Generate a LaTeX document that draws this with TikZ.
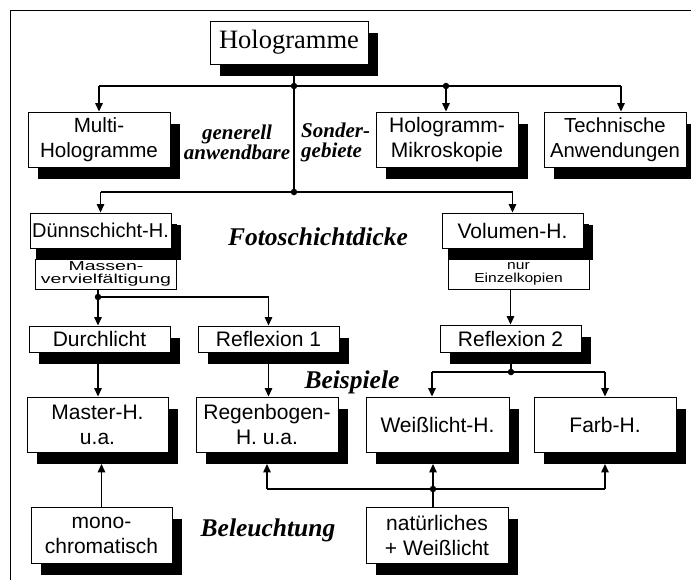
\documentclass[tikz,border=0pt]{standalone}
\usepackage{fontspec}
\usepackage{graphicx}
\setmainfont{Liberation Serif}
\setsansfont{Liberation Sans}
\usetikzlibrary{arrows.meta,shadows,calc}
\begin{document}
\begin{tikzpicture}[x=1pt,y=-1pt,
  box/.style={draw, line width=0.9pt, fill=white, inner sep=0pt, align=center,
    font=\fontsize{21}{25}\selectfont\sffamily,
    drop shadow={shadow xshift=9.5pt, shadow yshift=-11.5pt, fill=black, opacity=1}},
  subbox/.style={draw, line width=0.9pt, fill=white, inner sep=0pt, align=center,
    font=\fontsize{13}{13}\selectfont\sffamily},
  lab/.style={inner sep=0pt, font=\fontsize{21}{20}\selectfont\bfseries\itshape},
  biglab/.style={inner sep=0pt, font=\fontsize{25.5}{28}\selectfont\bfseries\itshape},
  conn/.style={line width=1.4pt},
  arr/.style={line width=1.4pt, -{Triangle[length=8.5pt,width=7.5pt]}},
  dot/.style={circle, fill=black, inner sep=0pt, minimum size=6.5pt}
]
\useasboundingbox (0,0) rectangle (691,579);
\draw[line width=1pt] (10,10) rectangle (700,600);

% boxes
\node[box, minimum width=158pt, minimum height=43pt, font=\fontsize{26.5}{30}\selectfont\rmfamily] (holo) at (289,42.5) {Hologramme};
\node[box, minimum width=142pt, minimum height=55pt, font=\fontsize{20.6}{25}\selectfont\sffamily] (multi) at (99,139.5) {Multi-\\Hologramme};
\node[box, minimum width=142pt, minimum height=55pt] (mikro) at (447,139.5) {Hologramm-\\Mikroskopie};
\node[box, minimum width=142pt, minimum height=55pt, font=\fontsize{20.3}{25}\selectfont\sffamily] (tech) at (615,139.5) {Technische\\Anwendungen};

\node[box, minimum width=141pt, minimum height=35pt, font=\fontsize{20}{24}\selectfont\sffamily, drop shadow={shadow xshift=6pt, shadow yshift=-11pt, fill=black, opacity=1}] (duenn) at (100.5,230.5) {Dünnschicht-H.};
\node[subbox, minimum width=141pt, minimum height=30pt] (massen) at (106,274) {\scalebox{1.5}[1]{Massen-}\\\scalebox{1.5}[1]{vervielfältigung}};
\node[box, minimum width=141pt, minimum height=35pt, drop shadow={shadow xshift=6pt, shadow yshift=-11pt, fill=black, opacity=1}] (volumen) at (512.5,230.5) {Volumen-H.};
\node[subbox, minimum width=141pt, minimum height=30pt] (nur) at (518.5,274) {\scalebox{1.2}[1]{nur}\\\scalebox{1.2}[1]{Einzelkopien}};

\node[box, minimum width=141pt, minimum height=26pt] (durch) at (99.5,339) {Durchlicht};
\node[box, minimum width=141pt, minimum height=26pt] (refl1) at (268.5,339) {Reflexion 1};
\node[box, minimum width=141pt, minimum height=27pt] (refl2) at (510.5,338.5) {Reflexion 2};

\node[box, minimum width=141pt, minimum height=55pt] (master) at (97.5,424.5) {Master-H.\\u.a.};
\node[box, minimum width=142pt, minimum height=55pt] (regen) at (267,424.5) {Regenbogen-\\H. u.a.};
\node[box, minimum width=143pt, minimum height=55pt] (weiss) at (437.5,424.5) {Weißlicht-H.};
\node[box, minimum width=142pt, minimum height=55pt] (farb) at (605,424.5) {Farb-H.};

\node[box, minimum width=141pt, minimum height=56pt] (mono) at (101.5,535) {mono-\\chromatisch};
\node[box, minimum width=142pt, minimum height=56pt] (natur) at (437,535) {natürliches\\+ Weißlicht};

% labels
\node[lab, align=center] (gen) at (237,142) {generell\\anwendbare};
\node[lab, align=left, anchor=west] (son) at (301,142) {Sonder-\\gebiete};
\node[biglab] (foto) at (318,237) {Fotoschichtdicke};
\node[biglab] (beisp) at (352,382) {Beispiele};
\node[biglab] (bel) at (268,530) {Beleuchtung};

% junction coordinates
\coordinate (j1) at (294,86);
\coordinate (j2) at (446,86);
\coordinate (ta) at (621,86);
\coordinate (j3) at (294,192);
\coordinate (j4) at (98,297);
\coordinate (j5) at (511,372);
\coordinate (wa) at (432,372);
\coordinate (j6) at (433,489);

% connectors top
\draw[conn] (holo.south -| j1) -- (j3);
\draw[conn] (multi.north |- j1) -- (ta);
\draw[arr] (multi.north |- j1) -- (multi.north);
\draw[arr] (j2) -- (j2 |- mikro.north);
\draw[arr] (ta) -- (ta |- tech.north);
\draw[conn] (duenn.north |- j3) -- (volumen.north |- j3);
\draw[arr] (duenn.north |- j3) -- (duenn.north);
\draw[arr] (volumen.north |- j3) -- (volumen.north);

% left branch
\draw[conn] (massen.south -| j4) -- (j4) -- (j4 -| refl1.north);
\draw[arr] (j4) -- (j4 |- durch.north);
\draw[arr] (j4 -| refl1.north) -- (refl1.north);
\draw[arr] (j4 |- durch.south) -- (j4 |- master.north);
\draw[arr] (refl1.south) -- (refl1.south |- regen.north);

% right branch
\draw[arr] (nur.south -| refl2.north) -- (refl2.north);
\draw[conn] (refl2.south -| j5) -- (j5);
\draw[conn] (wa) -- (j5 -| farb.north);
\draw[arr] (wa) -- (wa |- weiss.north);
\draw[arr] (j5 -| farb.north) -- (farb.north);

% bottom
\draw[arr] (mono.north) -- ($(mono.north |- master.south)+(0,11.5)$);
\draw[conn] (natur.north -| j6) -- (j6);
\draw[conn] (j6 -| regen.south) -- (j6 -| farb.south);
\draw[arr] (j6) -- ($(j6 |- weiss.south)+(0,11.5)$);
\draw[arr] (j6 -| regen.south) -- ($(regen.south)+(0,11.5)$);
\draw[arr] (j6 -| farb.south) -- ($(farb.south)+(0,11.5)$);

% dots
\node[dot] (d1) at (j1) {};
\node[dot] (d2) at (j2) {};
\node[dot] (d3) at (j3) {};
\node[dot] (d4) at (j4) {};
\node[dot] (d5) at (j5) {};
\node[dot] (d6) at (j6) {};
\end{tikzpicture}
\end{document}
